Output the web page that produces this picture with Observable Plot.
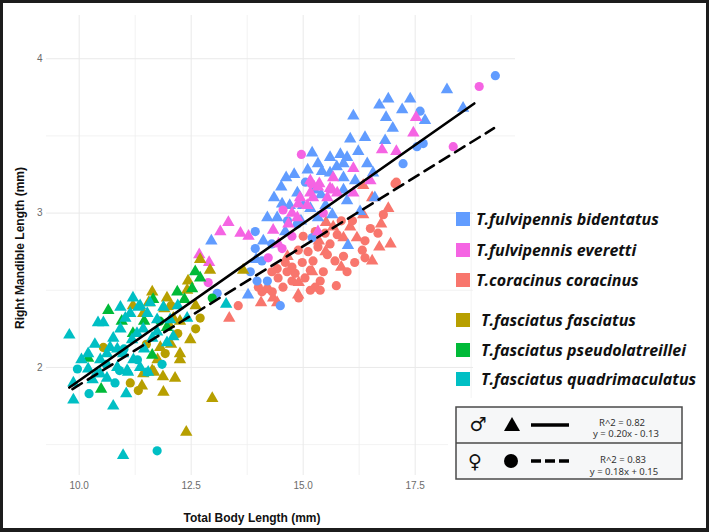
<!DOCTYPE html>
<html><head><meta charset="utf-8">
<script src="https://cdn.jsdelivr.net/npm/d3@7"></script>
<script src="https://cdn.jsdelivr.net/npm/@observablehq/plot@0.6"></script>
<style>
html,body{margin:0;padding:0;background:#fff;}
#wrap{position:relative;width:709px;height:532px;overflow:hidden;background:#fff;}
#wrap > svg{position:absolute;left:0;top:0;}
#frame{position:absolute;left:0;top:0;width:709px;height:532px;box-sizing:border-box;border:3px solid #1c1c1c;border-bottom-width:4px;pointer-events:none;}
</style></head>
<body><div id="wrap"></div>
<script>
// ---------- data ----------
const speciesNames = ["T.fulvipennis bidentatus","T.fulvipennis everetti","T.coracinus coracinus","T.fasciatus fasciatus","T.fasciatus pseudolatreillei","T.fasciatus quadrimaculatus"];
const speciesColors = ["#619CFF","#F564E3","#F8766D","#B79F00","#00BA38","#00BFC4"];
const sexNames = ["M","F"];

const bidentatusM = [[18.21,3.80],[18.57,3.68],[17.39,3.74],[16.90,3.74],[16.70,3.70],[17.21,3.67],[16.85,3.62],[17.72,3.60],[16.12,3.63],[16.38,3.49],[16.83,3.47],[15.20,3.39],[15.60,3.36],[15.83,3.38],[15.98,3.36],[16.23,3.40],[16.43,3.32],[15.33,3.32],[15.42,3.27],[15.60,3.26],[15.90,3.32],[15.90,3.23],[16.16,3.21],[14.62,3.23],[14.51,3.17],[16.56,3.26],[14.87,3.13],[14.53,3.06],[14.20,2.97],[14.42,2.97],[14.11,2.82],[13.77,2.47],[16.00,2.79],[15.33,2.97],[15.65,2.99],[15.90,3.15],[15.98,3.08],[16.27,3.01],[15.16,3.03],[12.95,2.82],[15.10,3.28],[15.75,3.30],[14.80,3.25],[15.40,3.12],[15.00,3.05],[14.70,3.05],[16.60,3.10],[17.00,3.55],[14.35,3.10],[15.25,3.15],[16.05,3.48],[14.95,2.95],[14.60,2.88],[15.50,3.05],[13.95,2.70]];
const bidentatusF = [[19.29,3.89],[17.61,3.66],[17.54,3.43],[17.68,3.45],[17.23,3.32],[13.93,2.88],[13.93,2.77],[14.08,2.69],[13.97,2.56],[14.20,2.56],[13.82,2.62],[14.49,2.40],[14.87,2.93],[15.20,2.84],[13.08,2.48],[14.30,2.80],[15.05,3.20],[14.65,2.95]];
const everettiM = [[13.33,2.94],[13.15,2.88],[13.60,2.87],[13.78,2.85],[12.68,2.73],[12.90,2.68],[16.76,3.41],[17.08,3.40],[17.46,3.52],[17.52,3.62],[16.12,3.29],[15.36,3.19],[15.67,3.23],[15.65,3.15],[14.93,3.10],[15.22,3.10],[16.12,3.13],[14.75,3.00],[14.89,3.06],[15.16,3.21],[14.33,2.89],[15.33,2.88],[15.60,3.16],[15.76,3.13],[16.50,3.21],[14.87,2.97],[15.09,3.05],[14.67,2.93],[15.16,3.13],[15.54,3.10],[15.33,3.17],[14.45,2.80]];
const everettiF = [[12.88,2.55],[14.96,3.38],[18.35,3.43],[18.93,3.82],[15.18,3.19],[14.55,3.02],[14.53,2.77],[14.22,2.71],[14.75,2.85],[15.45,3.00]];
const coracinusM = [[16.54,3.10],[16.90,3.03],[16.74,2.93],[16.34,2.99],[16.54,2.69],[15.51,2.94],[15.67,2.91],[15.90,2.84],[16.05,2.91],[16.20,2.84],[14.33,2.45],[14.06,2.42],[14.89,2.47],[13.35,2.32],[16.34,3.18],[14.42,2.42],[16.70,2.78],[15.20,2.62],[14.90,2.55],[15.50,2.75],[15.85,2.65],[14.65,2.72],[15.35,2.82],[16.95,2.80]];
const coracinusF = [[16.79,2.99],[17.05,3.19],[16.67,2.87],[16.38,2.82],[16.32,2.76],[16.38,2.71],[15.98,2.62],[15.74,2.53],[15.76,2.86],[15.60,2.80],[15.54,2.73],[15.71,2.69],[15.33,2.78],[15.22,2.69],[15.16,2.63],[15.04,2.58],[14.89,2.76],[14.98,2.68],[14.82,2.61],[14.75,2.65],[15.38,2.56],[15.27,2.52],[15.16,2.50],[15.38,2.50],[14.60,2.68],[14.64,2.62],[14.42,2.64],[14.44,2.58],[14.75,2.56],[14.55,2.52],[14.31,2.49],[14.08,2.49],[14.20,2.51],[13.55,2.40],[15.11,2.75],[15.27,2.88],[15.49,2.87],[17.08,3.20],[15.90,2.72],[16.10,2.95],[14.30,2.62],[14.00,2.52],[15.85,2.95],[16.50,2.90],[15.45,2.62],[15.00,2.85],[16.15,2.68],[14.90,2.45]];
const fasciatusM = [[11.63,2.49],[11.96,2.45],[12.43,2.56],[12.41,2.50],[12.92,2.63],[12.70,2.70],[13.66,2.63],[12.10,2.32],[12.25,2.30],[12.48,2.18],[12.25,2.09],[11.43,2.35],[11.81,2.13],[11.63,1.98],[11.43,1.96],[11.40,1.88],[11.87,1.94],[12.14,1.93],[11.88,1.84],[12.25,2.05],[12.97,1.80],[12.39,1.58],[11.67,1.97],[11.55,2.42],[12.00,2.28],[12.60,2.40],[11.20,2.40],[11.90,2.38],[11.75,2.05],[12.05,2.15]];
const fasciatusF = [[12.70,2.32],[11.92,2.09],[10.54,2.13],[11.14,1.90],[11.32,1.85],[12.60,2.25],[11.50,2.15],[12.05,2.40],[12.20,2.22]];
const pseudoM = [[10.65,2.37],[12.19,2.49],[12.52,2.51],[12.59,2.62],[11.65,2.44],[11.96,2.26],[11.63,2.08],[10.49,1.86],[10.20,2.06],[12.35,2.44],[11.20,2.22],[10.95,2.30],[11.45,2.30],[12.70,2.58]];
const pseudoF = [[12.97,2.45],[11.80,2.30]];
const quadriM = [[9.78,2.21],[9.87,1.79],[9.87,1.90],[10.98,1.43],[10.76,1.75],[11.05,1.83],[10.62,1.93],[10.20,1.99],[10.54,2.29],[10.42,2.29],[10.20,2.09],[11.20,2.45],[11.03,2.32],[11.36,2.40],[11.52,2.35],[11.74,2.31],[11.96,2.16],[12.10,2.20],[12.41,2.32],[10.47,1.96],[10.76,2.19],[10.92,2.25],[10.69,2.13],[11.18,2.18],[11.29,2.22],[11.43,2.25],[11.63,2.19],[11.74,2.23],[10.98,2.09],[11.21,2.05],[10.85,2.00],[11.07,1.98],[11.36,2.00],[11.54,1.97],[10.47,2.05],[10.62,2.09],[11.14,2.35],[11.32,2.39],[10.92,2.39],[11.58,2.42],[11.88,2.39],[12.03,2.31],[11.09,1.97],[13.28,2.41],[10.40,1.96],[10.35,2.15],[10.05,2.05],[10.85,2.12],[11.45,2.12],[12.20,2.40],[10.30,1.92]];
const quadriF = [[9.96,1.99],[10.22,1.83],[10.80,1.90],[11.74,1.46],[11.52,1.97],[10.60,2.02],[11.00,2.12],[11.30,2.05],[11.85,2.02],[10.90,1.98]];

// regression lines (as drawn)
const maleLineX = [9.78, 18.82], maleLineY = [1.87, 3.71];
const femaleLineX = [9.85, 19.26], femaleLineY = [1.86, 3.55];

// ticks
const xMajor = [10, 12.5, 15, 17.5], xMinor = [11.25, 13.75, 16.25, 18.75];
const yMajor = [2, 3, 4], yMinor = [1.5, 2.5, 3.5];

// sex legend
const sexSymbols = ["\u2642", "\u2640"];
const sexR2 = ["R^2 = 0.82", "R^2 = 0.83"];
const sexEq = ["y = 0.20x - 0.13", "y = 0.18x + 0.15"];

// ---------- build table ----------
const groups = [
  [coracinusM, 2, "M"], [coracinusF, 2, "F"],
  [bidentatusM, 0, "M"], [bidentatusF, 0, "F"],
  [everettiM, 1, "M"], [everettiF, 1, "F"],
  [fasciatusM, 3, "M"], [fasciatusF, 3, "F"],
  [pseudoM, 4, "M"], [pseudoF, 4, "F"],
  [quadriM, 5, "M"], [quadriF, 5, "F"]
];
const rows = [];
for (const [arr, si, sex] of groups) for (const [x, y] of arr) rows.push({x, y, species: speciesNames[si], sex});
const maleLine = maleLineX.map((x, i) => ({x, y: maleLineY[i]}));
const femaleLine = femaleLineX.map((x, i) => ({x, y: femaleLineY[i]}));

const chart = Plot.plot({
  width: 709, height: 532,
  marginLeft: 46, marginRight: 194, marginTop: 15, marginBottom: 57,
  style: {fontFamily: "'Liberation Sans', Arial, sans-serif", background: "transparent"},
  x: {domain: [9.27, 19.74], label: null},
  y: {domain: [1.30, 4.28], label: null},
  color: {domain: speciesNames, range: speciesColors},
  symbol: {domain: sexNames, range: ["triangle", "circle"]},
  marks: [
    Plot.gridX(xMinor, {stroke: "#ececec", strokeOpacity: 1, strokeWidth: 0.7}),
    Plot.gridY(yMinor, {stroke: "#ececec", strokeOpacity: 1, strokeWidth: 0.7}),
    Plot.gridX(xMajor, {stroke: "#e9e9e9", strokeOpacity: 1, strokeWidth: 1}),
    Plot.gridY(yMajor, {stroke: "#e9e9e9", strokeOpacity: 1, strokeWidth: 1}),
    Plot.axisX({ticks: xMajor, tickSize: 0, tickPadding: 6, tickFormat: d => d.toFixed(1), fontSize: 10, color: "#6b6b6b", label: null}),
    Plot.axisY({ticks: yMajor, tickSize: 0, tickPadding: 4, tickFormat: d => String(d), fontSize: 10, color: "#6b6b6b", label: null}),
    Plot.dot(rows, {x: "x", y: "y", fill: "species", symbol: "sex", r: 4.6}),
    Plot.line(maleLine, {x: "x", y: "y", stroke: "#000", strokeWidth: 2.6}),
    Plot.line(femaleLine, {x: "x", y: "y", stroke: "#000", strokeWidth: 2.6, strokeDasharray: "11,7"})
  ]
});
const wrap = document.getElementById("wrap");
wrap.appendChild(chart);

// ---------- overlay: legend + titles ----------
const rowY = [219, 250, 280, 320, 350, 379];
const textX = [476, 476, 476, 481, 481, 481];
let s = `<svg xmlns="http://www.w3.org/2000/svg" width="709" height="532" viewBox="0 0 709 532">`;
s += `<rect x="473" y="190" width="236" height="342" fill="#fff"/>`;
s += `<rect x="448" y="398" width="261" height="134" fill="#fff"/>`;
speciesNames.forEach((n, i) => {
  s += `<rect x="456" y="${rowY[i] - 7}" width="14" height="14" fill="${speciesColors[i]}"/>`;
  s += `<text x="${textX[i]}" y="${rowY[i] + 6}" font-family="'Open Sans', sans-serif" font-weight="700" font-style="italic" font-size="16" fill="#111">${n}</text>`;
});
// sex box
s += `<rect x="456" y="407" width="226" height="72" fill="#f6f7f8" stroke="#4a4a4a" stroke-width="1.5"/>`;
s += `<line x1="456" y1="443" x2="682" y2="443" stroke="#4a4a4a" stroke-width="1.5"/>`;
s += `<text x="478" y="431" text-anchor="middle" font-family="'DejaVu Sans', sans-serif" font-size="19" fill="#111">${sexSymbols[0]}</text>`;
s += `<text x="475" y="468" text-anchor="middle" font-family="'DejaVu Sans', sans-serif" font-size="19" fill="#111">${sexSymbols[1]}</text>`;
s += `<polygon points="504,431 520,431 512,417" fill="#000"/>`;
s += `<circle cx="511" cy="461" r="7" fill="#000"/>`;
s += `<line x1="531" y1="425" x2="569" y2="425" stroke="#000" stroke-width="3.3"/>`;
s += `<line x1="531" y1="461" x2="569" y2="461" stroke="#000" stroke-width="3.3" stroke-dasharray="10,4"/>`;
s += `<text x="622" y="425.5" text-anchor="middle" font-family="'Noto Sans', sans-serif" font-size="9.5" fill="#333">${sexR2[0]}</text>`;
s += `<text x="626" y="437" text-anchor="middle" font-family="'Noto Sans', sans-serif" font-size="9.5" fill="#333">${sexEq[0]}</text>`;
s += `<text x="623" y="463" text-anchor="middle" font-family="'Noto Sans', sans-serif" font-size="9.5" fill="#333">${sexR2[1]}</text>`;
s += `<text x="624" y="475" text-anchor="middle" font-family="'Noto Sans', sans-serif" font-size="9.5" fill="#333">${sexEq[1]}</text>`;
// axis titles
s += `<text x="252" y="521.5" text-anchor="middle" font-family="'Liberation Sans', Arial, sans-serif" font-weight="700" font-size="12" fill="#111">Total Body Length (mm)</text>`;
s += `<text transform="translate(24,248) rotate(-90)" text-anchor="middle" font-family="'Liberation Sans', Arial, sans-serif" font-weight="700" font-size="12" fill="#111">Right Mandible Length (mm)</text>`;
s += `</svg>`;
const ov = document.createElement("div");
ov.style.cssText = "position:absolute;left:0;top:0;width:709px;height:532px;";
ov.innerHTML = s;
wrap.appendChild(ov);
const fr = document.createElement("div");
fr.id = "frame";
wrap.appendChild(fr);
</script>
</body></html>
